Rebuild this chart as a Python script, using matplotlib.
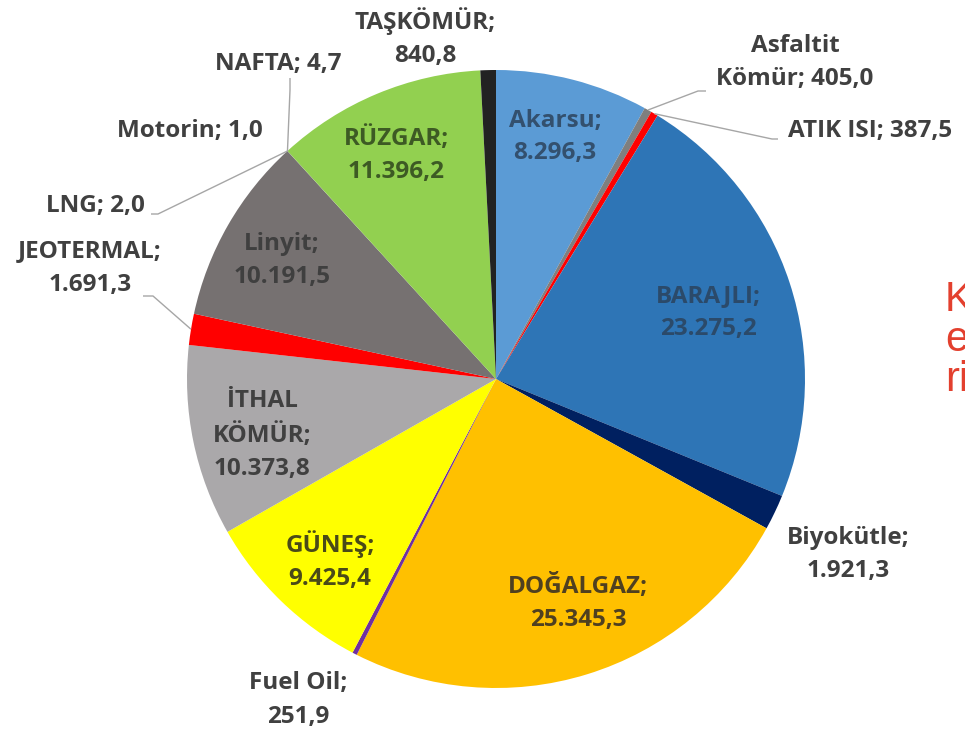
import matplotlib.pyplot as plt
import numpy as np

# installed capacity by source (MW), clockwise from the top
sources = ["Akarsu", "Asfaltit Kömür", "ATIK ISI", "BARAJLI", "Biyokütle",
           "DOĞALGAZ", "Fuel Oil", "GÜNEŞ", "İTHAL KÖMÜR", "JEOTERMAL",
           "Linyit", "LNG", "Motorin", "NAFTA", "RÜZGAR", "TAŞKÖMÜR"]
values = [8296.3, 405.0, 387.5, 23275.2, 1921.3,
          25345.3, 251.9, 9425.4, 10373.8, 1691.3,
          10191.5, 2.0, 1.0, 4.7, 11396.2, 840.8]
colors = ['#5b9bd5', '#7f7f7f', '#ff0000', '#2e75b6', '#002060',
          '#ffc000', '#7030a0', '#ffff00', '#aaa8aa', '#ff0000',
          '#767171', '#4472c4', '#ed7d31', '#a5a5a5', '#92d050', '#222222']

W, H = 965, 734


def fmt(v):
    s = f"{v:,.1f}"
    return s.replace(",", "X").replace(".", ",").replace("X", ".")


# label layout: text template, pixel position, colour, optional leader (elbow, end)
layout = {
    "Akarsu": ("Akarsu;\n{}", (555, 137), '#33506e', None),
    "Asfaltit Kömür": ("Asfaltit\nKömür; {}", (795, 62), '#404040', ((698, 91), (706, 91))),
    "ATIK ISI": ("ATIK ISI; {}", (870, 131), '#404040', ((772, 139), (778, 139))),
    "BARAJLI": ("BARAJLI;\n{}", (708, 313), '#2b4a6a', None),
    "Biyokütle": ("Biyokütle;\n{}", (848, 555), '#404040', None),
    "DOĞALGAZ": ("DOĞALGAZ;\n{}", (578, 603), '#4f4020', None),
    "Fuel Oil": ("Fuel Oil;\n{}", (298, 700), '#404040', None),
    "GÜNEŞ": ("GÜNEŞ;\n{}", (330, 561), '#4a4a18', None),
    "İTHAL KÖMÜR": ("İTHAL\nKÖMÜR;\n{}", (262, 435), '#404040', None),
    "JEOTERMAL": ("JEOTERMAL;\n{}", (90, 268), '#404040', ((153, 296), (143, 296))),
    "Linyit": ("Linyit;\n{}", (282, 260), '#3f3f3f', None),
    "LNG": ("LNG; {}", (95, 206), '#404040', ((158, 214), (151, 214))),
    "Motorin": ("Motorin; {}", (190, 131), '#404040', None),
    "NAFTA": ("NAFTA; {}", (278, 64), '#404040', ((290, 90), (290, 78))),
    "RÜZGAR": ("RÜZGAR;\n{}", (396, 155), '#3d5a24', None),
    "TAŞKÖMÜR": ("TAŞKÖMÜR;\n{}", (425, 38), '#404040', None),
}

fig = plt.figure(figsize=(W / 100, H / 100), dpi=100)
fig.patch.set_facecolor('white')
ax = fig.add_axes([0, 0, 1, 1])

cx, cy, r = 496, H - 379, 309
wedges, _ = ax.pie(values, colors=colors, startangle=90, counterclock=False,
                   center=(cx, cy), radius=r,
                   wedgeprops=dict(linewidth=0))

font = dict(family=['Open Sans', 'DejaVu Sans'], fontsize=17.5, fontweight='bold')

for name, val, w in zip(sources, values, wedges):
    tmpl, (px, py), col, leader = layout[name]
    ax.text(px, H - py, tmpl.format(fmt(val)), ha='center', va='center',
            color=col, linespacing=1.5, **font)
    if leader is not None:
        ang = np.radians((w.theta1 + w.theta2) / 2)
        x0, y0 = cx + r * np.cos(ang), cy + r * np.sin(ang)
        (ex, ey), (fx, fy) = leader
        ax.plot([x0, ex, fx], [y0, H - ey, H - fy], color='#a6a6a6', lw=1.0,
                solid_capstyle='butt')

# text from the slide beside the chart, cut off at the right edge
ax.text(945, H - 340, "K\ne\nri", ha='left', va='center', color='#e3402e',
        fontsize=30, family='Liberation Sans', linespacing=1.0)

ax.set_xlim(0, W)
ax.set_ylim(0, H)
ax.set_aspect('equal')
ax.axis('off')

plt.savefig('out.png', dpi=100, facecolor=fig.get_facecolor())
